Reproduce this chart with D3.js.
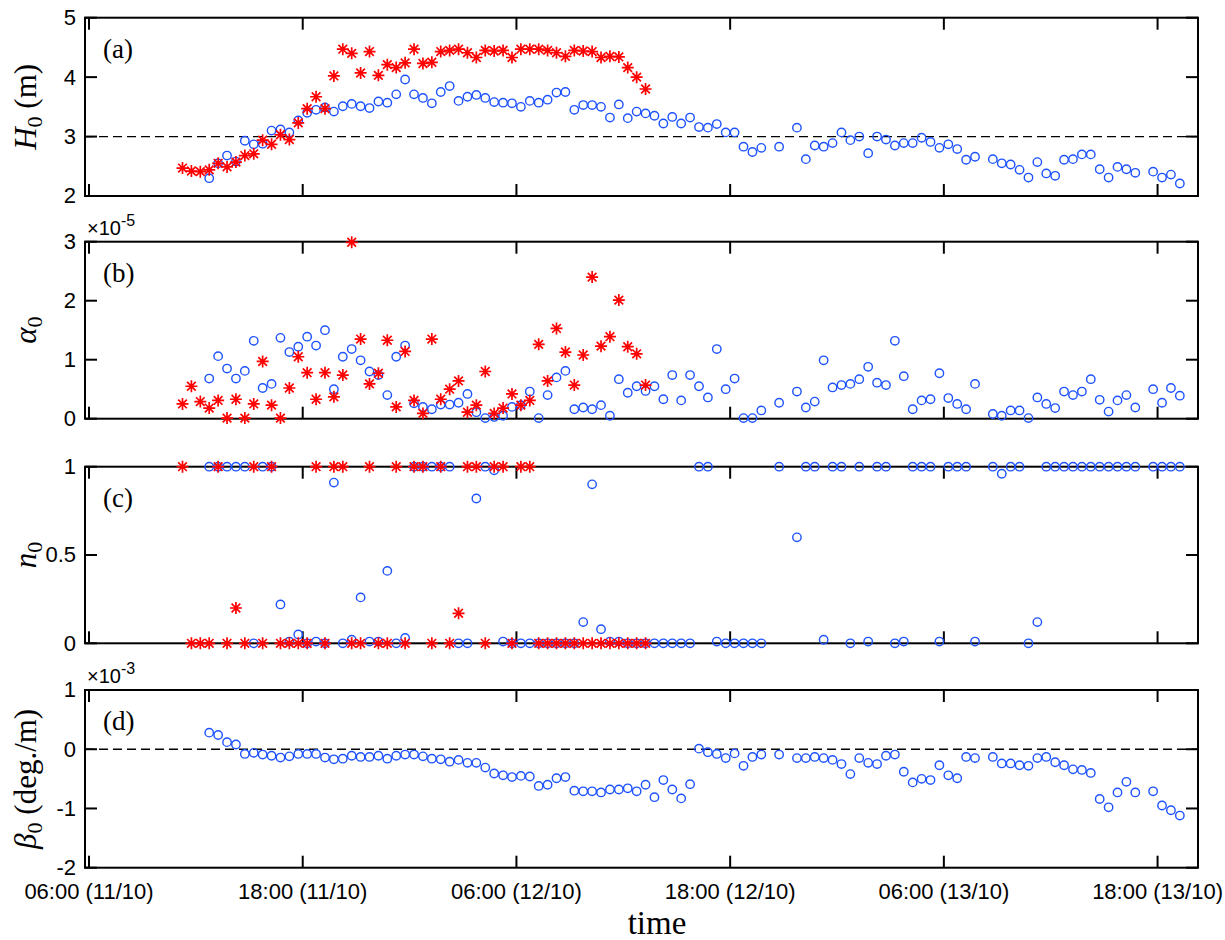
<!DOCTYPE html>
<html>
<head>
<meta charset="utf-8">
<script src="https://cdn.jsdelivr.net/npm/d3@7"></script>
<style>
  body { margin: 0; background: #fff; }
  .tick-label { font-family: "Liberation Sans", Arial, sans-serif; font-size: 22px; fill: #000; }
  .math { font-family: "Liberation Serif", "Times New Roman", serif; fill: #000; }
</style>
</head>
<body>
<div id="chart"></div>
<script>
// sampling times, hours after 00:00 on 11/10 (every half hour from 11:15)
const times = [
  11.25, 11.75, 12.25, 12.75, 13.25, 13.75, 14.25, 14.75, 15.25, 15.75,
  16.25, 16.75, 17.25, 17.75, 18.25, 18.75, 19.25, 19.75, 20.25, 20.75,
  21.25, 21.75, 22.25, 22.75, 23.25, 23.75, 24.25, 24.75, 25.25, 25.75,
  26.25, 26.75, 27.25, 27.75, 28.25, 28.75, 29.25, 29.75, 30.25, 30.75,
  31.25, 31.75, 32.25, 32.75, 33.25, 33.75, 34.25, 34.75, 35.25, 35.75,
  36.25, 36.75, 37.25, 37.75, 38.25, 38.75, 39.25, 39.75, 40.25, 40.75,
  41.25, 41.75, 42.25, 42.75, 43.25, 43.75, 44.25, 44.75, 45.25, 45.75,
  46.25, 46.75, 47.25, 47.75, 48.25, 48.75, 49.25, 49.75, 50.25, 50.75,
  51.25, 51.75, 52.25, 52.75, 53.25, 53.75, 54.25, 54.75, 55.25, 55.75,
  56.25, 56.75, 57.25, 57.75, 58.25, 58.75, 59.25, 59.75, 60.25, 60.75,
  61.25, 61.75, 62.25, 62.75, 63.25, 63.75, 64.25, 64.75, 65.25, 65.75,
  66.25, 66.75, 67.25
];

const timeTicks = [6, 18, 30, 42, 54, 66];
const timeTickLabels = ["06:00 (11/10)", "18:00 (11/10)", "06:00 (12/10)",
                        "18:00 (12/10)", "06:00 (13/10)", "18:00 (13/10)"];

// blue circles (one value per sampling time, null = no estimate)
const blueH = [
  null, null, null,
  2.30, 2.55, 2.68, 2.58, 2.93, 2.87, 2.88, 3.10, 3.12, 3.07,
  3.27, 3.40, 3.45, 3.49, 3.42, 3.51, 3.55, 3.51, 3.48, 3.59,
  3.57, 3.71, 3.96, 3.71, 3.65, 3.56, 3.75, 3.85, 3.60, 3.67,
  3.70, 3.65, 3.58, 3.57, 3.56, 3.50, 3.60, 3.57, 3.62, 3.74,
  3.75, 3.45, 3.53, 3.53, 3.50, 3.32, 3.54, 3.31, 3.42, 3.39,
  3.35, 3.22, 3.33, 3.22, 3.32, 3.16, 3.15, 3.21, 3.07, 3.07,
  2.83, 2.74, 2.81, null, 2.83, null, 3.15, 2.62, 2.85, 2.83,
  2.89, 3.07, 2.94, 3.00, 2.72, 3.00, 2.95, 2.85, 2.89, 2.89,
  2.98, 2.91, 2.81, 2.87, 2.79, 2.61, 2.66, null, 2.62, 2.55,
  2.53, 2.44, 2.31, 2.57, 2.38, 2.34, 2.61, 2.62, 2.70, 2.70,
  2.45, 2.31, 2.49, 2.45, 2.39, null, 2.41, 2.31, 2.36, 2.21
];

const blueAlpha = [ // x 1e-5
  null, null, null,
  0.68, 1.06, 0.85, 0.68, 0.81, 1.32, 0.52, 0.59, 1.37, 1.13,
  1.22, 1.39, 1.24, 1.50, 0.50, 1.05, 1.18, 0.99, 0.80, 0.74,
  0.40, 1.05, 1.24, 0.26, 0.20, 0.16, 0.24, 0.24, 0.27, 0.42,
  0.11, 0.01, 0.03, 0.05, 0.20, 0.23, 0.46, 0.01, 0.40, 0.70,
  0.81, 0.16, 0.19, 0.16, 0.23, 0.05, 0.67, 0.44, 0.55, 0.47,
  0.55, 0.33, 0.74, 0.31, 0.74, 0.55, 0.36, 1.18, 0.50, 0.68,
  0.01, 0.01, 0.14, null, 0.27, null, 0.46, 0.19, 0.29, 0.99,
  0.53, 0.57, 0.59, 0.67, 0.88, 0.61, 0.57, 1.32, 0.72, 0.16,
  0.31, 0.33, 0.77, 0.35, 0.25, 0.16, 0.59, null, 0.08, 0.05,
  0.14, 0.14, 0.01, 0.36, 0.25, 0.18, 0.46, 0.40, 0.46, 0.67,
  0.32, 0.12, 0.31, 0.40, 0.19, null, 0.50, 0.27, 0.52, 0.39
];

const blueN = [
  null, null, null,
  1, 1, 1, 1, 1, 0, 1, 1, 0.22, 0.01,
  0.05, 0, 0.01, 0, 0.91, 0, 0.02, 0.26, 0.01, 0.01,
  0.41, 0, 0.03, 1, 1, 1, 1, 1, 0, 0,
  0.82, 1, 0.98, 0.01, 0, 0, 0, 0, 0, 0,
  0, 0, 0.12, 0.90, 0.08, 0.01, 0.01, 0, 0, 0,
  0, 0, 0, 0, 0, 1, 1, 0.01, 0, 0,
  0, 0, 0, null, 1, null, 0.60, 1, 1, 0.02,
  1, 1, 0, 1, 0.01, 1, 1, 0, 0.01, 1,
  1, 1, 0.01, 1, 1, 1, 0.01, null, 1, 0.96,
  1, 1, 0, 0.12, 1, 1, 1, 1, 1, 1,
  1, 1, 1, 1, 1, null, 1, 1, 1, 1
];

const blueBeta = [ // x 1e-3 deg./m
  null, null, null,
  0.28, 0.24, 0.12, 0.08, -0.08, -0.06, -0.09, -0.11, -0.14, -0.12,
  -0.08, -0.08, -0.08, -0.14, -0.17, -0.16, -0.11, -0.13, -0.13, -0.11,
  -0.16, -0.11, -0.09, -0.09, -0.12, -0.16, -0.17, -0.21, -0.18, -0.23,
  -0.23, -0.31, -0.41, -0.44, -0.47, -0.45, -0.46, -0.62, -0.60, -0.49,
  -0.47, -0.70, -0.71, -0.71, -0.73, -0.68, -0.68, -0.66, -0.71, -0.60,
  -0.81, -0.52, -0.68, -0.83, -0.59, 0.01, -0.05, -0.08, -0.15, -0.07,
  -0.28, -0.13, -0.09, null, -0.09, null, -0.15, -0.15, -0.13, -0.15,
  -0.18, -0.25, -0.42, -0.15, -0.23, -0.25, -0.11, -0.09, -0.38, -0.56,
  -0.50, -0.52, -0.27, -0.44, -0.49, -0.13, -0.15, null, -0.13, -0.24,
  -0.24, -0.27, -0.28, -0.15, -0.13, -0.22, -0.27, -0.34, -0.35, -0.40,
  -0.84, -0.98, -0.73, -0.55, -0.73, null, -0.71, -0.95, -1.03, -1.12
];

// red asterisks (first 53 sampling times)
const redH = [
  2.47, 2.42, 2.41, 2.44, 2.55, 2.49, 2.57, 2.68, 2.71, 2.94,
  2.87, 3.03, 2.95, 3.23, 3.47, 3.67, 3.47, 4.02, 4.47, 4.40,
  4.07, 4.43, 4.03, 4.21, 4.16, 4.24, 4.47, 4.23, 4.25, 4.43,
  4.45, 4.47, 4.41, 4.33, 4.45, 4.44, 4.45, 4.33, 4.47, 4.47,
  4.47, 4.45, 4.41, 4.35, 4.45, 4.44, 4.43, 4.33, 4.35, 4.34,
  4.16, 4.00, 3.80
];

const redAlpha = [ // x 1e-5
  0.25, 0.55, 0.29, 0.18, 0.31, 0.01, 0.33, 0.01, 0.25, 0.97,
  0.23, 0.01, 0.52, 1.05, 0.78, 0.33, 0.78, 0.37, 0.74, 2.99,
  1.35, 0.59, 0.77, 1.33, 0.20, 1.14, 0.31, 0.09, 1.35, 0.33,
  0.50, 0.64, 0.11, 0.23, 0.80, 0.09, 0.18, 0.42, 0.23, 0.31,
  1.26, 0.64, 1.53, 1.13, 0.57, 1.08, 2.40, 1.23, 1.39, 2.01,
  1.22, 1.10, 0.57
];

const redN = [
  1, 0, 0, 0, 1, 0, 0.20, 0, 1, 0,
  1, 0, 0, 0, 0, 1, 0, 1, 1, 0,
  0, 1, 0, 0, 1, 0, 1, 1, 0, 1,
  0, 0.17, 1, 1, 0, 1, 1, 0, 1, 1,
  0, 0, 0, 0, 0, 0, 0, 0, 0, 0,
  0, 0, 0
];

const W = 1225, H = 940;
const left = 85, right = 1198;
const blueColor = "#1d52ff";
const redColor = "#ff0000";

const svg = d3.select("#chart").append("svg")
  .attr("width", W).attr("height", H);

const x = d3.scaleLinear().domain([5.775, 68.27]).range([left, right]);

const panels = [
  { top: 17.7, bottom: 196, domain: [2, 5], ticks: [2, 3, 4, 5], blue: blueH, red: redH,
    tag: "(a)", dash: 3, exp: null, ylab: [["H", "i"], ["0", "sub"], [" (m)", ""]] },
  { top: 241.7, bottom: 418.7, domain: [0, 3], ticks: [0, 1, 2, 3], blue: blueAlpha, red: redAlpha,
    tag: "(b)", dash: null, exp: "-5", ylab: [["α", "i"], ["0", "sub"]] },
  { top: 466.7, bottom: 643.3, domain: [0, 1], ticks: [0, 0.5, 1], blue: blueN, red: redN,
    tag: "(c)", dash: null, exp: null, ylab: [["n", "i"], ["0", "sub"]] },
  { top: 690, bottom: 867.7, domain: [-2, 1], ticks: [-2, -1, 0, 1], blue: blueBeta, red: null,
    tag: "(d)", dash: 0, exp: "-3", ylab: [["β", "i"], ["0", "sub"], [" (deg./m)", ""]] }
];

const tickLen = 12;
const star = 6, starD = star * 0.72;
const starPath = `M${-star},0H${star}M0,${-star}V${star}M${-starD},${-starD}L${starD},${starD}M${-starD},${starD}L${starD},${-starD}`;

panels.forEach(p => {
  const y = d3.scaleLinear().domain(p.domain).range([p.bottom, p.top]);
  const g = svg.append("g");

  // reference dashed line
  if (p.dash !== null) {
    g.append("line")
      .attr("x1", left).attr("x2", right)
      .attr("y1", y(p.dash)).attr("y2", y(p.dash))
      .attr("stroke", "#000").attr("stroke-width", 1.3)
      .attr("stroke-dasharray", "9,5");
  }

  // frame
  g.append("rect")
    .attr("x", left).attr("y", p.top)
    .attr("width", right - left).attr("height", p.bottom - p.top)
    .attr("fill", "none").attr("stroke", "#000").attr("stroke-width", 2);

  // x ticks, top and bottom, pointing inwards
  timeTicks.forEach(t => {
    g.append("line").attr("x1", x(t)).attr("x2", x(t))
      .attr("y1", p.bottom).attr("y2", p.bottom - tickLen)
      .attr("stroke", "#000").attr("stroke-width", 2);
    g.append("line").attr("x1", x(t)).attr("x2", x(t))
      .attr("y1", p.top).attr("y2", p.top + tickLen)
      .attr("stroke", "#000").attr("stroke-width", 2);
  });

  // y ticks, left and right
  p.ticks.forEach(v => {
    g.append("line").attr("x1", left).attr("x2", left + tickLen)
      .attr("y1", y(v)).attr("y2", y(v))
      .attr("stroke", "#000").attr("stroke-width", 2);
    g.append("line").attr("x1", right).attr("x2", right - tickLen)
      .attr("y1", y(v)).attr("y2", y(v))
      .attr("stroke", "#000").attr("stroke-width", 2);
    g.append("text").attr("class", "tick-label")
      .attr("x", left - 9).attr("y", y(v))
      .attr("dy", "0.34em")
      .attr("text-anchor", "end")
      .text(v);
  });

  // exponent note
  if (p.exp) {
    const e = g.append("text").attr("class", "tick-label")
      .attr("x", left + 2).attr("y", p.top - 7)
      .style("font-size", "20px");
    e.append("tspan").text("×10");
    e.append("tspan").attr("dy", -9).style("font-size", "16px").text(p.exp);
  }

  // panel tag
  g.append("text").attr("class", "math")
    .attr("x", left + 18).attr("y", p.top + 40)
    .style("font-size", "27px")
    .text(p.tag);

  // y label
  const cy = (p.top + p.bottom) / 2;
  const yl = g.append("text").attr("class", "math")
    .attr("transform", `translate(36,${cy}) rotate(-90)`)
    .attr("text-anchor", "middle")
    .style("font-size", "31px");
  p.ylab.forEach(([s, kind]) => {
    const ts = yl.append("tspan").text(s);
    if (kind === "i") ts.style("font-style", "italic");
    if (kind === "sub") ts.attr("dy", 6).style("font-size", "22px");
    if (kind === "" ) ts.attr("dy", -6);
  });

  // blue circles
  const bluePts = p.blue.map((v, k) => ({ t: times[k], v })).filter(d => d.v !== null);
  g.append("g").selectAll("circle").data(bluePts).join("circle")
    .attr("cx", d => x(d.t)).attr("cy", d => y(d.v))
    .attr("r", 4.2)
    .attr("fill", "none").attr("stroke", blueColor).attr("stroke-width", 1.4);

  // red asterisks
  if (p.red) {
    const redPts = p.red.map((v, k) => ({ t: times[k], v }));
    g.append("g").selectAll("path").data(redPts).join("path")
      .attr("transform", d => `translate(${x(d.t)},${y(d.v)})`)
      .attr("d", starPath)
      .attr("fill", "none").attr("stroke", redColor).attr("stroke-width", 1.7);
  }
});

// time axis labels
const last = panels[panels.length - 1];
timeTicks.forEach((t, i) => {
  svg.append("text").attr("class", "tick-label")
    .attr("x", x(t)).attr("y", last.bottom + 31)
    .attr("text-anchor", "middle")
    .text(timeTickLabels[i]);
});

svg.append("text").attr("class", "math")
  .attr("x", 657).attr("y", 934)
  .attr("text-anchor", "middle")
  .style("font-size", "33px")
  .text("time");
</script>
</body>
</html>
